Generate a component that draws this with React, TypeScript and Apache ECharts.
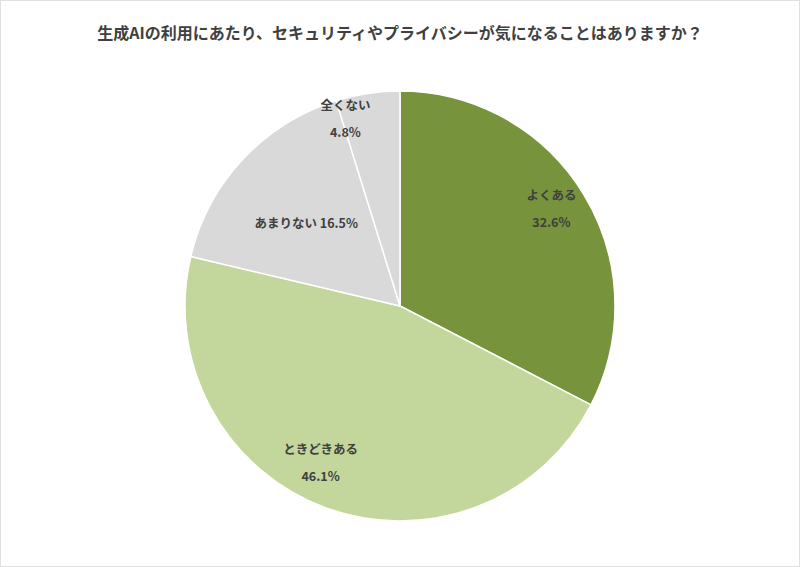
import React, { useEffect, useRef } from 'react'
import * as echarts from 'echarts'

const titleText = '生成AIの利用にあたり、セキュリティやプライバシーが気になることはありますか？'
const categories = ['よくある', 'ときどきある', 'あまりない', '全くない']
const values = [32.6, 46.1, 16.5, 4.8]
const colors = ['#77933c', '#c3d69b', '#d9d9d9', '#d9d9d9']
// label nudges from the default inside position
const labelOffsets = [[57, -41], [-41, 52], [-13, -8], [-38, -79]]
const singleLine = [false, false, true, false]

export default function App() {
    const chartRef = useRef(null)

    useEffect(() => {
        document.body.style.margin = '0'
        const chart = echarts.init(chartRef.current, null, { renderer: 'svg' })
        chart.setOption({
            animation: false,
            backgroundColor: '#ffffff',
            title: {
                text: titleText,
                left: 'center',
                top: 18,
                textStyle: {
                    fontFamily: 'Noto Sans CJK JP',
                    fontSize: 16,
                    fontWeight: 'bold',
                    color: '#404040'
                }
            },
            series: [{
                type: 'pie',
                center: [399, 305],
                radius: 215,
                startAngle: 90,
                clockwise: true,
                silent: true,
                itemStyle: { borderColor: '#ffffff', borderWidth: 1.5 },
                label: {
                    show: true,
                    position: 'inside',
                    fontFamily: 'Noto Sans CJK JP',
                    fontSize: 12.5,
                    fontWeight: 'bold',
                    color: '#404040',
                    lineHeight: 27
                },
                labelLine: { show: false },
                data: categories.map((name, i) => ({
                    name,
                    value: values[i],
                    itemStyle: { color: colors[i] },
                    label: {
                        offset: labelOffsets[i],
                        formatter: singleLine[i] ? '{b} {c}%' : '{b}\n{c}%'
                    }
                }))
            }]
        })
        return () => chart.dispose()
    }, [])

    return <div ref={chartRef} style={{ width: 800, height: 567, boxSizing: 'border-box', border: '1px solid #e0e0e0' }} />
}
